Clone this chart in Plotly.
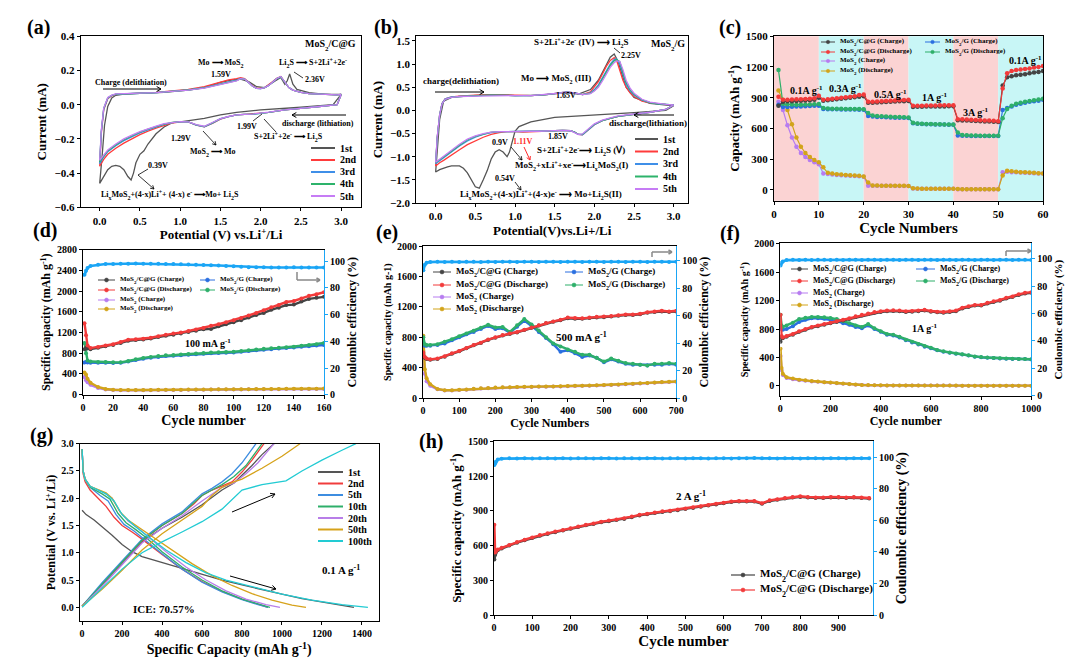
import re
import plotly.graph_objects as go

W, H = 1080, 659
SERIF = "Liberation Serif"

# ======================= DATA =======================
CV_LABELS = ["1st", "2nd", "3rd", "4th", "5th"]

# ---- (a) CV of MoS2/C@G (potential V, current mA) ----
A_V_1ST = [3.0, 2.9, 2.5, 2.0, 1.7, 1.5, 1.3, 1.1, 1.0, 0.9, 0.8, 0.7, 0.6, 0.55, 0.5, 0.45, 0.42, 0.39, 0.35, 0.3,
           0.25, 0.2, 0.15, 0.1, 0.05, 0.0,
           0.03, 0.06, 0.1, 0.15, 0.2, 0.3, 0.5, 0.8, 1.1, 1.3, 1.5, 1.65, 1.75, 1.85, 1.95, 2.05, 2.15, 2.25, 2.3, 2.33,
           2.36, 2.4, 2.45, 2.6, 2.8, 3.0]
A_I_1ST = [0.06, 0.0, -0.015, -0.03, -0.045, -0.06, -0.08, -0.095, -0.1, -0.105, -0.13, -0.17, -0.23, -0.27, -0.29,
           -0.34, -0.40, -0.44, -0.42, -0.38, -0.36, -0.355, -0.36, -0.38, -0.42, -0.46,
           -0.3, -0.12, -0.01, 0.04, 0.055, 0.062, 0.066, 0.072, 0.085, 0.1, 0.13, 0.145, 0.15, 0.135, 0.105, 0.1, 0.13,
           0.16, 0.12, 0.14, 0.18, 0.12, 0.09, 0.07, 0.06, 0.06]
A_V = [3.0, 2.95, 2.7, 2.5, 2.3, 2.1, 2.0, 1.9, 1.8, 1.7, 1.6, 1.5, 1.4, 1.3, 1.2, 1.1, 1.0, 0.9, 0.8, 0.7, 0.6, 0.5,
       0.4, 0.3, 0.2, 0.1, 0.05, 0.0,
       0.02, 0.05, 0.1, 0.15, 0.2, 0.3, 0.5, 0.7, 0.9, 1.1, 1.3, 1.4, 1.5, 1.6, 1.7, 1.75, 1.8, 1.85, 1.9, 1.95, 2.0,
       2.05, 2.1, 2.15, 2.2, 2.25, 2.3, 2.35, 2.4, 2.5, 2.6, 2.8, 2.95, 3.0]
A_I_2ND = [0.06, 0.0, -0.012, -0.02, -0.03, -0.045, -0.05, -0.055, -0.056, -0.06, -0.07, -0.085, -0.11, -0.13, -0.12,
           -0.10, -0.10, -0.107, -0.12, -0.137, -0.155, -0.175, -0.2, -0.225, -0.255, -0.29, -0.32, -0.36,
           -0.17, -0.03, 0.035, 0.052, 0.06, 0.064, 0.068, 0.072, 0.079, 0.09, 0.105, 0.118, 0.135, 0.145, 0.152,
           0.158, 0.152, 0.132, 0.11, 0.097, 0.095, 0.10, 0.115, 0.135, 0.155, 0.165, 0.13, 0.10, 0.085, 0.072, 0.065,
           0.06, 0.058, 0.06]
A_I_3RD = [0.06, 0.0, -0.012, -0.02, -0.03, -0.045, -0.052, -0.056, -0.057, -0.06, -0.07, -0.083, -0.108, -0.13, -0.12,
           -0.10, -0.10, -0.105, -0.115, -0.13, -0.147, -0.165, -0.187, -0.21, -0.24, -0.275, -0.305, -0.345,
           -0.16, -0.025, 0.038, 0.054, 0.061, 0.064, 0.067, 0.071, 0.077, 0.087, 0.1, 0.11, 0.122, 0.133, 0.143,
           0.153, 0.15, 0.13, 0.108, 0.096, 0.094, 0.1, 0.113, 0.133, 0.153, 0.163, 0.13, 0.1, 0.085, 0.072, 0.065,
           0.06, 0.058, 0.06]
A_I_4TH = [0.06, 0.0, -0.012, -0.02, -0.03, -0.045, -0.052, -0.056, -0.057, -0.06, -0.07, -0.082, -0.106, -0.128,
           -0.118, -0.10, -0.10, -0.104, -0.113, -0.127, -0.143, -0.16, -0.182, -0.205, -0.235, -0.27, -0.3, -0.335,
           -0.155, -0.022, 0.04, 0.055, 0.062, 0.065, 0.067, 0.071, 0.077, 0.086, 0.098, 0.108, 0.12, 0.131, 0.141,
           0.152, 0.15, 0.13, 0.108, 0.096, 0.094, 0.1, 0.113, 0.133, 0.153, 0.163, 0.13, 0.1, 0.085, 0.072, 0.065,
           0.06, 0.058, 0.06]
A_I_5TH = [0.06, 0.0, -0.012, -0.02, -0.03, -0.044, -0.051, -0.055, -0.056, -0.059, -0.069, -0.081, -0.104, -0.126,
           -0.117, -0.10, -0.099, -0.103, -0.111, -0.125, -0.14, -0.157, -0.178, -0.2, -0.23, -0.265, -0.295, -0.325,
           -0.15, -0.02, 0.042, 0.056, 0.063, 0.066, 0.068, 0.071, 0.076, 0.085, 0.097, 0.107, 0.118, 0.13, 0.14,
           0.152, 0.15, 0.13, 0.108, 0.096, 0.094, 0.1, 0.113, 0.133, 0.153, 0.165, 0.132, 0.1, 0.085, 0.072, 0.065,
           0.06, 0.058, 0.06]

# ---- (b) CV of MoS2/G ----
B_V_1ST = [3.0, 2.9, 2.5, 2.0, 1.5, 1.2, 1.05, 1.0, 0.97, 0.93, 0.9, 0.85, 0.8, 0.75, 0.7, 0.65, 0.6, 0.55, 0.5, 0.45,
           0.4, 0.35, 0.3, 0.25, 0.2, 0.15, 0.1, 0.05, 0.0,
           0.02, 0.05, 0.1, 0.2, 0.3, 0.5, 0.7, 1.0, 1.3, 1.5, 1.65, 1.8, 1.95, 2.05, 2.1, 2.15, 2.2, 2.25, 2.3, 2.35,
           2.4, 2.5, 2.7, 3.0]
B_I_1ST = [0.1, 0.0, -0.05, -0.1, -0.15, -0.25, -0.35, -0.45, -0.65, -0.9, -1.0, -0.9, -0.85, -0.9, -1.05, -1.3, -1.5,
           -1.68, -1.65, -1.5, -1.35, -1.25, -1.2, -1.2, -1.2, -1.22, -1.25, -1.28, -1.33,
           -0.8, -0.2, 0.2, 0.28, 0.3, 0.32, 0.34, 0.32, 0.33, 0.36, 0.38, 0.35, 0.45, 0.65, 0.8, 0.98, 1.15, 1.22, 1.05,
           0.75, 0.5, 0.28, 0.15, 0.1]
B_V = [3.0, 2.9, 2.7, 2.5, 2.3, 2.2, 2.1, 2.0, 1.95, 1.9, 1.85, 1.8, 1.75, 1.7, 1.6, 1.5, 1.4, 1.3, 1.2, 1.1, 1.0, 0.9,
       0.8, 0.7, 0.6, 0.5, 0.4, 0.3, 0.2, 0.1, 0.05, 0.0,
       0.02, 0.05, 0.08, 0.12, 0.2, 0.3, 0.5, 0.7, 1.0, 1.2, 1.4, 1.55, 1.65, 1.75, 1.85, 1.95, 2.0, 2.05, 2.1, 2.15,
       2.2, 2.25, 2.28, 2.32, 2.36, 2.4, 2.45, 2.5, 2.6, 2.7, 2.8, 2.9, 3.0]
B_I_2ND = [0.12, 0.02, -0.04, -0.08, -0.13, -0.17, -0.22, -0.31, -0.39, -0.47, -0.53, -0.52, -0.47, -0.44, -0.43,
           -0.44, -0.45, -0.45, -0.46, -0.47, -0.46, -0.46, -0.48, -0.52, -0.58, -0.66, -0.74, -0.85, -0.97, -1.08,
           -1.13, -1.2,
           -0.6, -0.1, 0.15, 0.25, 0.29, 0.31, 0.33, 0.34, 0.33, 0.32, 0.34, 0.38, 0.4, 0.38, 0.34, 0.4, 0.5, 0.62,
           0.78, 0.95, 1.08, 1.14, 1.08, 0.88, 0.65, 0.5, 0.38, 0.3, 0.2, 0.16, 0.14, 0.13, 0.12]
B_I_3RD = [0.12, 0.02, -0.04, -0.08, -0.13, -0.17, -0.22, -0.31, -0.39, -0.47, -0.53, -0.52, -0.47, -0.44, -0.43,
           -0.44, -0.45, -0.45, -0.45, -0.45, -0.45, -0.45, -0.46, -0.48, -0.52, -0.58, -0.66, -0.77, -0.9, -1.02,
           -1.08, -1.15,
           -0.6, -0.1, 0.15, 0.25, 0.29, 0.3, 0.32, 0.33, 0.32, 0.32, 0.34, 0.38, 0.4, 0.38, 0.34, 0.38, 0.45, 0.55,
           0.7, 0.87, 1.0, 1.1, 1.11, 1.0, 0.75, 0.56, 0.42, 0.33, 0.22, 0.17, 0.14, 0.13, 0.12]
B_I_4TH = [0.12, 0.02, -0.04, -0.08, -0.13, -0.17, -0.22, -0.30, -0.38, -0.46, -0.52, -0.52, -0.47, -0.44, -0.43,
           -0.44, -0.45, -0.45, -0.45, -0.45, -0.45, -0.45, -0.46, -0.47, -0.51, -0.56, -0.64, -0.75, -0.88, -1.0,
           -1.06, -1.13,
           -0.58, -0.1, 0.14, 0.24, 0.28, 0.3, 0.32, 0.33, 0.32, 0.32, 0.34, 0.37, 0.39, 0.38, 0.34, 0.37, 0.43, 0.52,
           0.66, 0.82, 0.97, 1.07, 1.1, 1.05, 0.82, 0.6, 0.45, 0.35, 0.23, 0.17, 0.14, 0.13, 0.12]
B_I_5TH = [0.12, 0.02, -0.04, -0.08, -0.12, -0.16, -0.21, -0.29, -0.37, -0.45, -0.51, -0.52, -0.48, -0.44, -0.43,
           -0.44, -0.45, -0.45, -0.45, -0.45, -0.45, -0.45, -0.46, -0.47, -0.5, -0.55, -0.62, -0.73, -0.86, -0.98,
           -1.05, -1.12,
           -0.56, -0.1, 0.14, 0.24, 0.28, 0.3, 0.31, 0.32, 0.32, 0.32, 0.34, 0.37, 0.39, 0.38, 0.34, 0.36, 0.42, 0.5,
           0.63, 0.78, 0.93, 1.03, 1.07, 1.06, 0.88, 0.65, 0.48, 0.37, 0.24, 0.18, 0.15, 0.13, 0.12]

# ---- (c) rate performance (mAh/g) ----
C_CYC = list(range(1, 61))
C_CG_CH = [820, 860, 865, 865, 868, 870, 872, 875, 880, 900,
           870, 875, 880, 885, 890, 895, 900, 905, 910, 915,
           850, 850, 852, 855, 858, 860, 862, 865, 866, 868,
           810, 812, 812, 813, 814, 814, 815, 815, 816, 816,
           680, 678, 676, 674, 672, 670, 668, 666, 664, 662,
           1020, 1100, 1110, 1120, 1125, 1130, 1140, 1145, 1150, 1160]
C_CG_DIS = [910, 880, 880, 882, 884, 885, 887, 890, 895, 920,
            880, 885, 890, 895, 900, 905, 910, 915, 925, 930,
            860, 860, 862, 865, 868, 870, 872, 875, 878, 880,
            820, 822, 822, 823, 824, 824, 825, 825, 826, 826,
            690, 688, 686, 684, 682, 680, 678, 676, 674, 670,
            990, 1140, 1160, 1170, 1175, 1180, 1185, 1195, 1200, 1210]
C_G_CH = [830, 810, 810, 812, 814, 815, 816, 818, 820, 822,
          790, 788, 787, 786, 785, 785, 784, 784, 783, 783,
          720, 715, 712, 710, 708, 706, 705, 704, 703, 702,
          650, 645, 642, 640, 640, 638, 638, 637, 636, 635,
          530, 528, 527, 526, 526, 525, 525, 525, 525, 525,
          780, 800, 815, 830, 840, 850, 860, 865, 870, 880]
C_G_DIS = [1170, 840, 835, 833, 832, 832, 833, 834, 836, 838,
           800, 795, 793, 792, 791, 790, 790, 789, 789, 788,
           750, 725, 720, 718, 716, 714, 712, 710, 708, 706,
           655, 648, 645, 643, 642, 641, 640, 639, 638, 637,
           560, 535, 532, 530, 530, 529, 529, 529, 528, 528,
           700, 790, 820, 840, 850, 860, 868, 875, 882, 890]
C_M_CH = [860, 780, 630, 510, 420, 360, 320, 290, 270, 250,
          160, 155, 150, 145, 142, 140, 137, 135, 132, 128,
          40, 40, 39, 39, 38, 38, 37, 37, 36, 36,
          12, 11, 11, 10, 10, 10, 10, 9, 9, 9,
          6, 5, 5, 5, 5, 4, 4, 4, 4, 4,
          170, 175, 172, 170, 168, 166, 164, 162, 160, 158]
C_M_DIS = [970, 880, 780, 640, 510, 420, 360, 320, 290, 270,
           220, 165, 158, 152, 148, 145, 142, 140, 137, 130,
           70, 42, 41, 40, 40, 39, 39, 38, 38, 37,
           15, 12, 11, 11, 10, 10, 10, 10, 9, 9,
           7, 6, 5, 5, 5, 5, 5, 4, 4, 4,
           140, 185, 180, 176, 172, 170, 168, 165, 162, 160]
C_STEPS = [0, 10, 20, 30, 40, 50, 60]
C_RATE_LABELS = ["0.1A g^{-1}", "0.3A g^{-1}", "0.5A g^{-1}", "1A g^{-1}", "3A g^{-1}", "0.1A g^{-1}"]

# ---- (d) cycling at 100 mA/g ----
D_CYC = [1, 2, 3, 5] + list(range(10, 161, 5))
D_CG_DIS = [1380, 1150, 950, 900, 920, 950, 975, 1020, 1060, 1070, 1080, 1100, 1130, 1160, 1180, 1200, 1230, 1260,
            1290, 1330, 1360, 1400, 1440, 1480, 1530, 1580, 1630, 1690, 1730, 1790, 1810, 1860, 1910, 1940, 1980]
D_CG_CH = [880, 900, 890, 880, 905, 935, 960, 1000, 1040, 1055, 1065, 1085, 1115, 1140, 1160, 1180, 1210, 1235,
           1265, 1270, 1320, 1360, 1400, 1440, 1490, 1540, 1580, 1640, 1680, 1730, 1740, 1800, 1850, 1870, 1890]
D_G_CH = [620, 630, 620, 615, 615, 615, 610, 615, 640, 670, 695, 715, 730, 745, 750, 760, 770, 780, 790, 800, 805,
          810, 815, 830, 845, 860, 870, 880, 890, 900, 910, 925, 935, 950, 960]
D_G_DIS = [1000, 800, 660, 640, 630, 630, 625, 625, 650, 685, 710, 730, 745, 760, 765, 775, 785, 795, 805, 815, 820,
           825, 830, 845, 860, 875, 885, 895, 905, 915, 925, 945, 960, 975, 1000]
D_M_CH = [340, 280, 240, 190, 130, 100, 90, 85, 85, 85, 85, 88, 90, 90, 92, 92, 94, 95, 96, 98, 98, 100, 100, 102,
          103, 104, 105, 106, 107, 108, 108, 109, 110, 110, 110]
D_M_DIS = [430, 390, 310, 230, 150, 110, 95, 90, 90, 90, 90, 92, 94, 95, 96, 97, 98, 99, 100, 102, 103, 104, 105, 106,
           107, 108, 110, 111, 112, 113, 114, 115, 116, 117, 118]
D_CE = [90, 93, 95, 96.5, 97.5, 98, 98, 98.2, 98.2, 98.3, 98.2, 98.1, 98.1, 98, 98, 97.8, 97.6, 97.4, 97.2, 97, 96.8,
        96.5, 96.3, 96, 95.6, 95.5, 95.5, 95.3, 95.3, 95.3, 95.6, 95.3, 95.4, 95.4, 95.4]

# ---- (e) cycling at 500 mA/g ----
E_CYC = [1, 5, 10] + list(range(20, 701, 20))
E_CG_DIS = [600, 540, 520, 510, 520, 550, 590, 620, 660, 700, 730, 770, 800, 830, 850, 870, 900, 930, 960, 990, 1010,
            1030, 1060, 1055, 1050, 1060, 1070, 1075, 1080, 1090, 1100, 1100, 1110, 1130, 1140, 1150, 1140, 1150]
E_CG_CH = [580, 530, 515, 505, 515, 545, 585, 615, 655, 695, 725, 765, 795, 825, 845, 865, 895, 925, 955, 985, 1005,
           1025, 1050, 1045, 1045, 1055, 1060, 1065, 1075, 1085, 1095, 1095, 1105, 1125, 1135, 1140, 1135, 1140]
E_G_CH = [720, 690, 690, 690, 700, 720, 760, 800, 840, 870, 910, 950, 910, 920, 860, 940, 1020, 950, 870, 790, 710,
          610, 630, 590, 540, 560, 530, 470, 510, 480, 450, 440, 440, 430, 440, 440, 450, 440]
E_G_DIS = [800, 710, 700, 700, 710, 740, 775, 815, 850, 885, 925, 965, 930, 935, 870, 960, 1040, 970, 890, 800, 720,
           680, 640, 610, 570, 570, 530, 480, 520, 490, 460, 450, 440, 430, 450, 450, 460, 450]
E_M_CH = [620, 320, 220, 160, 115, 100, 100, 105, 110, 118, 124, 130, 134, 138, 140, 142, 144, 145, 147, 148, 150,
          152, 155, 158, 160, 162, 165, 168, 172, 176, 180, 185, 190, 196, 202, 208, 212, 215]
E_M_DIS = [820, 380, 260, 180, 120, 103, 103, 108, 113, 121, 127, 133, 137, 141, 143, 145, 147, 148, 150, 151, 153,
           155, 158, 161, 163, 165, 168, 171, 175, 179, 183, 188, 193, 199, 205, 211, 215, 218]
E_CE = [93, 97, 98.5, 99, 99.2, 99.1, 99.2, 99.1, 99.2, 99.2, 99.1, 99.2, 99.1, 99.2, 99.2, 99.1, 99.2, 99.2, 99.1,
        99.2, 99.2, 99.1, 99.2, 99.2, 99.1, 99.2, 99.2, 99.1, 99.2, 99.2, 99.1, 99.2, 99.2, 99.1, 99.2, 99.2, 99.1,
        99.2]

# ---- (f) cycling at 1 A/g ----
F_CYC = [1, 5, 10] + list(range(25, 1001, 25))
F_CG_DIS = [1000, 700, 680, 700, 730, 770, 800, 830, 850, 870, 890, 910, 930, 950, 980, 1000, 1020, 1040, 1050, 1060,
            1065, 1060, 1050, 1055, 1060, 1070, 1055, 1045, 1040, 1050, 1060, 1100, 1120, 1140, 1140, 1170, 1190,
            1210, 1240, 1260, 1290, 1310, 1320]
F_CG_CH = [620, 690, 670, 690, 720, 760, 790, 820, 840, 860, 880, 900, 920, 940, 970, 990, 1010, 1030, 1040, 1050,
           1055, 1050, 1040, 1045, 1050, 1060, 1045, 1035, 1030, 1040, 1050, 1090, 1110, 1130, 1130, 1160, 1180,
           1200, 1230, 1250, 1280, 1300, 1310]
F_G_CH = [820, 800, 790, 800, 840, 900, 930, 950, 950, 945, 930, 910, 880, 860, 830, 810, 850, 800, 760, 720, 710,
          680, 640, 610, 580, 550, 530, 500, 480, 465, 450, 440, 425, 410, 400, 395, 390, 385, 380, 378, 375, 375, 370]
F_G_DIS = [1000, 850, 830, 850, 890, 940, 960, 970, 970, 965, 955, 940, 910, 880, 850, 830, 870, 810, 770, 730, 720,
           690, 650, 620, 590, 560, 535, 505, 485, 468, 455, 443, 428, 413, 403, 397, 392, 387, 383, 380, 378, 377,
           372]
F_M_CH = [420, 220, 150, 110, 90, 78, 70, 60, 54, 47, 42, 35, 28, 20, 13, 9, 7, 5, 4, 3, 3, 2, 2, 2, 1, 1, 1, 1, 1,
          1, 0, 0, 0, 0, 0, 0, 0, 0, 0, 0, 0, 0, 0]
F_M_DIS = [520, 250, 170, 120, 100, 85, 75, 65, 58, 50, 45, 38, 30, 22, 15, 10, 8, 6, 5, 4, 3, 3, 2, 2, 2, 1, 1, 1,
           1, 1, 1, 0, 0, 0, 0, 0, 0, 0, 0, 0, 0, 0, 0]
F_CE = [95, 97, 98, 99, 99.2, 99.1, 99.2, 99.1, 99.2, 99.2, 99.1, 99.2, 99.1, 99.2, 99.2, 99.1, 99.2, 99.2, 99.1,
        99.2, 99.2, 99.1, 99.2, 99.2, 99.1, 99.2, 99.2, 99.1, 99.2, 99.2, 99.1, 99.2, 99.2, 99.1, 99.2, 99.2, 99.1,
        99.2, 99.2, 99.1, 99.2, 99.2, 99.1]

# ---- (g) charge/discharge profiles at 0.1 A/g ----
G_LABELS = ["1st", "2nd", "5th", "10th", "20th", "50th", "100th"]
G_DIS_Q = {
    "1st": [0, 20, 60, 100, 150, 200, 250, 300, 400, 500, 600, 700, 800, 900, 1000, 1100, 1200, 1300, 1360],
    "2nd": [0, 5, 15, 40, 80, 120, 160, 200, 250, 300, 400, 500, 600, 700, 800, 880, 930],
    "5th": [0, 5, 15, 40, 90, 130, 170, 210, 260, 300, 400, 500, 600, 700, 800, 880, 930],
    "10th": [0, 5, 15, 40, 100, 140, 180, 220, 270, 320, 400, 500, 600, 700, 800, 890, 940],
    "20th": [0, 5, 15, 40, 110, 150, 190, 230, 280, 330, 420, 520, 620, 720, 820, 920, 990],
    "50th": [0, 5, 15, 40, 120, 150, 190, 230, 290, 350, 450, 550, 650, 750, 850, 950, 1050, 1120],
    "100th": [0, 5, 15, 40, 120, 160, 200, 260, 330, 420, 520, 620, 720, 850, 1000, 1150, 1300, 1430],
}
G_DIS_V = {
    "1st": [1.78, 1.7, 1.6, 1.48, 1.32, 1.15, 1.02, 0.93, 0.82, 0.72, 0.61, 0.5, 0.41, 0.32, 0.24, 0.16, 0.1, 0.04, 0.0],
    "2nd": [2.9, 2.45, 2.3, 2.15, 2.0, 1.85, 1.65, 1.5, 1.38, 1.25, 0.97, 0.7, 0.47, 0.29, 0.15, 0.06, 0.0],
    "5th": [2.9, 2.5, 2.35, 2.2, 2.05, 1.95, 1.7, 1.52, 1.4, 1.28, 0.98, 0.7, 0.46, 0.28, 0.14, 0.05, 0.0],
    "10th": [2.9, 2.5, 2.35, 2.2, 2.08, 1.98, 1.72, 1.55, 1.42, 1.28, 1.02, 0.74, 0.5, 0.3, 0.15, 0.05, 0.0],
    "20th": [2.9, 2.5, 2.35, 2.22, 2.1, 2.0, 1.75, 1.58, 1.45, 1.3, 1.02, 0.74, 0.5, 0.3, 0.15, 0.05, 0.0],
    "50th": [2.9, 2.5, 2.35, 2.22, 2.1, 2.0, 1.75, 1.6, 1.45, 1.3, 1.05, 0.8, 0.58, 0.4, 0.25, 0.13, 0.04, 0.0],
    "100th": [2.9, 2.5, 2.35, 2.22, 2.08, 1.95, 1.7, 1.5, 1.3, 1.05, 0.82, 0.63, 0.5, 0.38, 0.24, 0.13, 0.05, 0.0],
}
G_CHG_Q = {
    "1st": [0, 100, 200, 300, 400, 500, 600, 650, 700, 760, 800, 850, 900, 960],
    "2nd": [0, 100, 200, 300, 400, 500, 560, 600, 650, 700, 750, 800, 850, 910],
    "5th": [0, 100, 200, 300, 400, 500, 560, 600, 650, 700, 750, 800, 870],
    "10th": [0, 100, 200, 300, 400, 500, 560, 600, 650, 700, 760, 820, 900],
    "20th": [0, 100, 200, 300, 400, 500, 600, 650, 700, 760, 820, 880, 960],
    "50th": [0, 100, 200, 300, 400, 500, 600, 650, 700, 760, 800, 900, 1000, 1090],
    "100th": [0, 100, 200, 300, 400, 500, 600, 700, 800, 900, 1000, 1020, 1100, 1200, 1300, 1370],
}
G_CHG_V = {
    "1st": [0.02, 0.42, 0.82, 1.2, 1.45, 1.65, 1.88, 2.02, 2.15, 2.28, 2.42, 2.6, 2.8, 3.0],
    "2nd": [0.02, 0.42, 0.82, 1.22, 1.5, 1.72, 1.9, 2.05, 2.15, 2.22, 2.3, 2.48, 2.7, 3.0],
    "5th": [0.02, 0.45, 0.85, 1.25, 1.53, 1.75, 1.95, 2.08, 2.18, 2.3, 2.45, 2.65, 3.0],
    "10th": [0.02, 0.43, 0.83, 1.23, 1.5, 1.72, 1.92, 2.05, 2.15, 2.25, 2.4, 2.6, 3.0],
    "20th": [0.02, 0.38, 0.78, 1.18, 1.45, 1.68, 1.95, 2.08, 2.2, 2.28, 2.45, 2.65, 3.0],
    "50th": [0.02, 0.33, 0.68, 1.05, 1.35, 1.6, 1.85, 2.05, 2.2, 2.3, 2.35, 2.55, 2.77, 3.0],
    "100th": [0.0, 0.35, 0.7, 1.0, 1.2, 1.38, 1.57, 1.8, 2.15, 2.25, 2.3, 2.32, 2.5, 2.7, 2.88, 3.0],
}

# ---- (h) long cycling at 2 A/g ----
H_CYC = [1, 3, 5, 10] + list(range(20, 981, 20))
H_DIS = [780, 540, 550, 565, 580, 605, 630, 650, 670, 690, 705, 720, 735, 750, 765, 780, 790, 805, 815, 825, 835, 850,
         865, 875, 885, 895, 900, 910, 920, 930, 940, 950, 960, 970, 980, 985, 985, 985, 965, 990, 1000, 1010, 1020,
         1025, 1020, 1015, 1015, 1020, 1020, 1015, 1020, 1015, 1010]
H_CH = [480, 520, 540, 560, 575, 600, 625, 645, 665, 685, 700, 715, 730, 745, 760, 775, 785, 800, 810, 820, 830, 845,
        860, 870, 880, 890, 895, 905, 915, 925, 935, 945, 955, 965, 975, 980, 980, 980, 960, 985, 995, 1005, 1015,
        1020, 1015, 1010, 1010, 1015, 1015, 1010, 1015, 1010, 1005]
H_CE = [95, 96, 97, 98.5, 99, 99.2, 99.1, 99.2, 99.1, 99.2, 99.2, 99.1, 99.2, 99.1, 99.2, 99.2, 99.1, 99.2, 99.2,
        99.1, 99.2, 99.2, 99.1, 99.2, 99.2, 99.1, 99.2, 99.2, 99.1, 99.2, 99.2, 99.1, 99.2, 99.2, 99.1, 99.2, 99.2,
        99.4, 99.2, 99.2, 99.1, 99.2, 99.2, 99.1, 99.2, 99.2, 99.1, 99.2, 99.2, 99.1, 99.2, 99.3, 99.2]

SERIES_NAMES = ["MoS_{2}/C@G (Charge)", "MoS_{2}/G (Charge)", "MoS_{2}/C@G (Discharge)", "MoS_{2}/G (Discharge)",
                "MoS_{2} (Charge)", "MoS_{2} (Discharge)"]

# ======================= STYLE =======================
CV_COLORS = ["#555555", "#ff3b3b", "#3f8fe8", "#2db36b", "#c67cf5"]
COL_CG_CH, COL_CG_DIS = "#444444", "#f23b3b"
COL_G_CH, COL_G_DIS = "#2a6fe0", "#2eaf6a"
COL_M_CH, COL_M_DIS = "#b77cf0", "#d2a41a"
COL_CE = "#1aa5f5"
G_COLORS = ["#555555", "#f03c3c", "#3d8de0", "#2eaf6a", "#b87ee8", "#d6a21a", "#22cbd3"]


def rich(text, fs):
    """_{..} -> subscript, ^{..} -> superscript, each with an explicit pixel size."""
    small = max(5, round(fs * 0.7))
    text = re.sub(r"_\{([^}]*)\}",
                  lambda m: f'<span style="font-size:{small}px;baseline-shift:sub">{m.group(1)}</span>', text)
    text = re.sub(r"\^\{([^}]*)\}",
                  lambda m: f'<span style="font-size:{small}px;baseline-shift:super">{m.group(1)}</span>', text)
    return text


def dom(x0, x1, y0, y1):
    return [x0 / W, x1 / W], [1 - y1 / H, 1 - y0 / H]


def axis(domain, rng, dtick, title, tsize, anchor, fmt=None, tfs=10, standoff=3, mirror=True, side=None,
         linecolor="black", overlaying=None):
    d = dict(domain=domain, range=rng, dtick=dtick, tick0=0, anchor=anchor, showline=True, linecolor=linecolor,
             linewidth=1, mirror=mirror, ticks="outside", ticklen=3, tickcolor=linecolor, showgrid=False,
             zeroline=False, automargin=False,
             tickfont=dict(family=SERIF, size=tfs, color="black", weight="bold"),
             title=dict(text=rich(title, tsize), font=dict(family=SERIF, size=tsize, color="black", weight="bold"),
                        standoff=standoff))
    if fmt:
        d["tickformat"] = fmt
    if side:
        d["side"] = side
    if overlaying:
        d["overlaying"] = overlaying
    return d


fig = go.Figure()
annotations = []
shapes = []


def P(x, y):
    return x / W, 1 - y / H


def label(text, x, y, size=8, color="black", anchor="center", bold=True):
    X, Y = P(x, y)
    annotations.append(dict(text=rich(text, size), x=X, y=Y, xref="paper", yref="paper", showarrow=False,
                            xanchor=anchor, yanchor="middle",
                            font=dict(family=SERIF, size=size, color=color, weight="bold" if bold else "normal")))


def seg(x0, y0, x1, y1, color="black", width=1):
    X0, Y0 = P(x0, y0)
    X1, Y1 = P(x1, y1)
    shapes.append(dict(type="line", xref="paper", yref="paper", x0=X0, y0=Y0, x1=X1, y1=Y1,
                       line=dict(color=color, width=width)))


def arrow(x0, y0, x1, y1, color="black", width=1, head=True, hl=5):
    # arrow drawn with shapes: shaft plus two short head strokes
    seg(x0, y0, x1, y1, color, width)
    if head:
        dx, dy = x1 - x0, y1 - y0
        n = (dx * dx + dy * dy) ** 0.5 or 1.0
        ux, uy = dx / n, dy / n
        for s in (1, -1):
            hx = x1 - hl * (ux * 0.87 - s * uy * 0.5)
            hy = y1 - hl * (uy * 0.87 + s * ux * 0.5)
            seg(x1, y1, hx, hy, color, width)


def leg(x0, x1, y, color, text, fs, marker=False, msize=4, lw=1.5):
    seg(x0, y, x1, y, color, lw)
    if marker:
        xm, ym = P((x0 + x1) / 2, y)
        shapes.append(dict(type="circle", xref="paper", yref="paper", xsizemode="pixel", ysizemode="pixel",
                           xanchor=xm, yanchor=ym, x0=-msize / 2, x1=msize / 2, y0=-msize / 2, y1=msize / 2,
                           fillcolor=color, line=dict(color=color, width=0.5)))
    label(text, x1 + 3, y, size=fs, anchor="left")


def line(x, y, color, xa, ya, width=1.3, markers=False, msize=4, name=None):
    fig.add_trace(go.Scatter(x=x, y=y, mode="lines+markers" if markers else "lines", xaxis=xa, yaxis=ya,
                             line=dict(color=color, width=width), marker=dict(size=msize, color=color),
                             showlegend=False, name=name, hoverinfo="skip"))


# ======================= (a) =======================
line(A_V_1ST, A_I_1ST, CV_COLORS[0], "x", "y", name="1st")
for lab, cur, col in zip(CV_LABELS[1:], [A_I_2ND, A_I_3RD, A_I_4TH, A_I_5TH], CV_COLORS[1:]):
    line(A_V, cur, col, "x", "y", name=lab)

# ======================= (b) =======================
line(B_V_1ST, B_I_1ST, CV_COLORS[0], "x2", "y2", name="1st")
for lab, cur, col in zip(CV_LABELS[1:], [B_I_2ND, B_I_3RD, B_I_4TH, B_I_5TH], CV_COLORS[1:]):
    line(B_V, cur, col, "x2", "y2", name=lab)

# ======================= (c) =======================
for i in range(6):
    shapes.append(dict(type="rect", xref="x3", yref="y3 domain", x0=C_STEPS[i], x1=C_STEPS[i + 1], y0=0, y1=1,
                       fillcolor="#fbd3d3" if i % 2 == 0 else "#c8f6f6", line=dict(width=0), layer="below"))
for ys, col in [(C_M_CH, COL_M_CH), (C_M_DIS, COL_M_DIS), (C_G_CH, COL_G_CH), (C_G_DIS, COL_G_DIS),
                (C_CG_CH, COL_CG_CH), (C_CG_DIS, COL_CG_DIS)]:
    line(C_CYC, ys, col, "x3", "y3", width=1.2, markers=True, msize=4.5)

# ======================= (d), (e), (f) =======================
for cyc, data, ce, xa, ya, ya2 in [
    (D_CYC, [D_M_CH, D_M_DIS, D_G_CH, D_G_DIS, D_CG_CH, D_CG_DIS], D_CE, "x4", "y4", "y9"),
    (E_CYC, [E_M_CH, E_M_DIS, E_G_CH, E_G_DIS, E_CG_CH, E_CG_DIS], E_CE, "x5", "y5", "y10"),
    (F_CYC, [F_M_CH, F_M_DIS, F_G_CH, F_G_DIS, F_CG_CH, F_CG_DIS], F_CE, "x6", "y6", "y11"),
]:
    for ys, col in zip(data, [COL_M_CH, COL_M_DIS, COL_G_CH, COL_G_DIS, COL_CG_CH, COL_CG_DIS]):
        line(cyc, ys, col, xa, ya, width=2.4, markers=True, msize=4)
    line(cyc, ce, COL_CE, xa, ya2, width=2.6, markers=True, msize=4)

# ======================= (g) =======================
for lab, col in zip(G_LABELS, G_COLORS):
    line(G_DIS_Q[lab], G_DIS_V[lab], col, "x7", "y7", width=1.3, name=lab)
    line(G_CHG_Q[lab], G_CHG_V[lab], col, "x7", "y7", width=1.3, name=lab)

# ======================= (h) =======================
line(H_CYC, H_CH, "#444444", "x8", "y8", width=2.4, markers=True, msize=4, name="Charge")
line(H_CYC, H_DIS, COL_CG_DIS, "x8", "y8", width=2.4, markers=True, msize=4, name="Discharge")
line(H_CYC, H_CE, COL_CE, "x8", "y12", width=2.6, markers=True, msize=4, name="CE")

# ======================= AXES =======================
CAP = "Specific capacity (mAh g^{-1})"
CE_T = "Coulombic efficiency (%)"
xa, ya = dom(72.7, 353.3, 28.3, 199.3)
lay = dict(
    xaxis=axis(xa, [-0.236, 3.25], 0.5, "Potential (V) vs.Li^{+}/Li", 13, "y", ".1f", 11, 4),
    yaxis=axis(ya, [-0.6, 0.4], 0.2, "Current (mA)", 13, "x", ".1f", 11, 4),
)
xa, ya = dom(408.3, 680, 28.3, 195)
lay["xaxis2"] = axis(xa, [-0.244, 3.18], 0.5, "Potential(V)vs.Li+/Li", 13, "y2", ".1f", 11, 4)
lay["yaxis2"] = axis(ya, [-2.0, 1.6], 0.5, "Current (mA)", 13, "x2", ".1f", 11, 4)
xa, ya = dom(766, 1035, 28.3, 192.7)
lay["xaxis3"] = axis(xa, [0, 60], 10, "Cycle Numbers", 15, "y3", None, 11, 3)
lay["yaxis3"] = axis(ya, [-107, 1500], 300, "Capacity (mAh g^{-1})", 13, "x3", None, 11, 3)
xa, ya = dom(75, 316, 241.7, 386.7)
lay["xaxis4"] = axis(xa, [0, 160], 20, "Cycle number", 14, "y4", None, 10, 2)
lay["yaxis4"] = axis(ya, [0, 2800], 400, CAP, 12, "x4", None, 10, 3, mirror=False)
lay["yaxis9"] = axis(ya, [0, 108.7], 20, CE_T, 12, "x4", None, 10, 3, mirror=False, side="right",
                     linecolor=COL_CE, overlaying="y4")
xa, ya = dom(415, 668.3, 238.3, 390)
lay["xaxis5"] = axis(xa, [0, 700], 100, "Cycle Numbers", 12, "y5", None, 10, 2)
lay["yaxis5"] = axis(ya, [0, 2000], 400, "Specific capacity (mAh g-1)", 10, "x5", None, 10, 3, mirror=False)
lay["yaxis10"] = axis(ya, [0, 110.5], 20, CE_T, 12, "x5", None, 10, 3, mirror=False, side="right",
                      linecolor=COL_CE, overlaying="y5")
xa, ya = dom(772.3, 1023.3, 235, 388.3)
lay["xaxis6"] = axis(xa, [0, 1000], 200, "Cycle number", 12, "y6", None, 10, 2)
lay["yaxis6"] = axis(ya, [-150, 2014], 400, CAP, 10, "x6", None, 10, 3, mirror=False)
lay["yaxis11"] = axis(ya, [-0.4, 111.5], 20, CE_T, 11, "x6", None, 10, 3, mirror=False, side="right",
                      linecolor=COL_CE, overlaying="y6")
xa, ya = dom(71.7, 370.7, 435.7, 613.3)
lay["xaxis7"] = axis(xa, [-12, 1484], 200, "Specific Capacity (mAh g^{-1})", 14, "y7", None, 10, 3)
lay["yaxis7"] = axis(ya, [-0.257, 3.0], 0.5, "Potential (V vs. Li^{+}/Li)", 12, "x7", ".1f", 10, 3)
xa, ya = dom(486, 865, 433.3, 607)
lay["xaxis8"] = axis(xa, [0, 990], 100, "Cycle number", 15, "y8", None, 10, 2)
lay["yaxis8"] = axis(ya, [0, 1500], 300, CAP, 13, "x8", None, 10, 3, mirror=False)
lay["yaxis12"] = axis(ya, [0, 110], 20, CE_T, 14, "x8", None, 10, 3, mirror=False, side="right",
                      linecolor=COL_CE, overlaying="y8")

# ======================= PANEL LABELS =======================
for txt, x, y in [("(a)", 30, 20), ("(b)", 378, 20), ("(c)", 722, 20), ("(d)", 37, 222), ("(e)", 379, 224),
                  ("(f)", 722, 225), ("(g)", 33, 428), ("(h)", 423, 433)]:
    label(txt, x, y, size=20)

# ---- (a) text ----
label("MoS_{2}/C@G", 350, 37, size=10, anchor="right")
label("Mo ⟶ MoS_{2}", 213, 55)
label("1.59V", 213, 66, size=8)
label("Li_{2}S ⟶ S+2Li^{+}+2e^{-}", 305, 55)
label("2.36V", 307, 71, size=8)
arrow(295, 70, 286, 64, width=0.8, head=False)
label("Charge (delithiation)", 123, 75)
arrow(95, 81, 153, 81)
label("discharge (lithiation)", 310, 115)
arrow(338, 107, 284, 107)
label("1.99V", 239, 118, size=8)
arrow(245, 113, 254, 106, width=0.8, head=False)
label("S+2Li^{+}+2e^{-} ⟶ Li_{2}S", 280, 129)
arrow(256, 111, 268, 124, width=0.8, head=False)
label("1.29V", 173, 130, size=8)
arrow(195, 123, 208, 137, width=0.8, hl=4)
label("MoS_{2} ⟶ Mo", 205, 144)
label("0.39V", 150, 158, size=8)
arrow(140, 161, 130, 167, width=0.8, head=False)
arrow(130, 167, 146, 181, width=0.8, hl=4)
label("Li_{x}MoS_{2}+(4-x)Li^{+}+ (4-x) e^{-} ⟶Mo+ Li_{2}S", 162, 187)

for i, (lab, col) in enumerate(zip(CV_LABELS, CV_COLORS)):
    leg(303, 327, 140 + i * 12, col, lab, 10, lw=2)

# ---- (b) text ----
label("MoS_{2}/G", 679, 37, size=10, anchor="right")
label("S+2Li^{+}+2e^{-} (IV) ⟶ Li_{2}S", 573, 35, size=9)
label("2.25V", 623, 47, size=8)
arrow(612, 45, 606, 40, width=0.8, head=False)
label("Mo ⟶ MoS_{2} (III)", 548, 71, size=9)
label("1.65V", 558, 88, size=8)
label("charge(delithiation)", 453, 73, size=9)
arrow(427, 84, 476, 84)
label("discharge(lithiation)", 640, 115, size=9)
arrow(666, 107, 626, 107)
label("1.85V", 550, 128, size=8)
label("0.9V", 492, 134, size=8)
label("1.11V", 515, 133, size=8, color="#ff2a2a")
arrow(516, 139, 522, 152, color="#ff2a2a", width=1, hl=4)
arrow(503, 139, 514, 152, width=0.8, hl=4)
label("S+2Li^{+}+2e^{-}⟶ Li_{2}S (Ⅴ)", 573, 143, size=9)
label("MoS_{2}+xLi^{+}+xe^{-}⟶Li_{x}MoS_{2}(I)", 563, 158, size=9)
label("0.54V", 497, 171, size=8)
arrow(507, 174, 513, 182, width=0.8, hl=4)
label("Li_{x}MoS_{2}+(4-x)Li^{+}+(4-x)e^{-} ⟶ Mo+Li_{2}S(II)", 533, 187, size=9)

for i, (lab, col) in enumerate(zip(CV_LABELS, CV_COLORS)):
    leg(627, 650, 131 + i * 12.5, col, lab, 10, lw=2)

# ---- (c) text & legend ----
for txt, x, y in zip(C_RATE_LABELS, [798, 837, 883, 927, 968, 1017], [82, 80, 86, 89, 104, 52]):
    label(txt, x, y, size=10)
c_pos = [(813, 827, 34), (917, 932, 34), (813, 827, 44), (917, 932, 44), (813, 827, 53), (813, 827, 63)]
for (x0, x1, y), name, col in zip(c_pos, SERIES_NAMES,
                                  [COL_CG_CH, COL_G_CH, COL_CG_DIS, COL_G_DIS, COL_M_CH, COL_M_DIS]):
    leg(x0, x1, y, col, name, 7, marker=True, msize=3.5, lw=1)

# ---- (d), (e), (f) legends & text ----
SER_COLS = [COL_CG_CH, COL_G_CH, COL_CG_DIS, COL_G_DIS, COL_M_CH, COL_M_DIS]
for cx0, cx1, c2x0, c2x1, rows, fs in [
    (90, 107, 192, 207, [272, 282, 292, 301], 7),
    (425, 443, 557, 575, [264, 277, 289, 301], 9),
    (783, 800, 908, 927, [261, 273, 285, 297], 8),
]:
    pos = [(cx0, cx1, rows[0]), (c2x0, c2x1, rows[0]), (cx0, cx1, rows[1]), (c2x0, c2x1, rows[1]),
           (cx0, cx1, rows[2]), (cx0, cx1, rows[3])]
    for (x0, x1, y), name, col in zip(pos, SERIES_NAMES, SER_COLS):
        leg(x0, x1, y, col, name, fs, marker=True, msize=4, lw=1)

label("100 mA g^{-1}", 200, 335, size=10)
label("500 mA g^{-1}", 573, 328, size=11)
label("1A g^{-1}", 917, 320, size=10)
for x0, y0, x1, y1 in [(289, 264, 312, 272), (644, 249, 664, 244), (998, 248, 1023, 243)]:
    seg(x0, y0, x0, y1, "#888888", 1.5)
    arrow(x0, y1, x1, y1, color="#888888", width=1.5, hl=4)

# ---- (g) ----
for i, (lab, col) in enumerate(zip(G_LABELS, G_COLORS)):
    leg(310, 335, 464 + i * 11.5, col, lab, 10, lw=2)
arrow(224, 504, 267, 486)
arrow(222, 568, 268, 581)
label("ICE: 70.57%", 156, 601, size=11)
label("0.1 A g^{-1}", 333, 561, size=11)

# ---- (h) ----
label("2 A g^{-1}", 683, 487, size=11)
leg(723, 747, 567, "#444444", "MoS_{2}/C@G (Charge)", 11, marker=True, msize=4, lw=1.2)
leg(723, 747, 582, COL_CG_DIS, "MoS_{2}/C@G (Discharge)", 11, marker=True, msize=4, lw=1.2)

fig.update_layout(
    width=W, height=H, margin=dict(l=0, r=0, t=0, b=0), template="none",
    paper_bgcolor="white", plot_bgcolor="white", showlegend=False,
    annotations=annotations, shapes=shapes, font=dict(family=SERIF, size=10, color="black"),
    **lay,
)
fig.write_html("out.html")
